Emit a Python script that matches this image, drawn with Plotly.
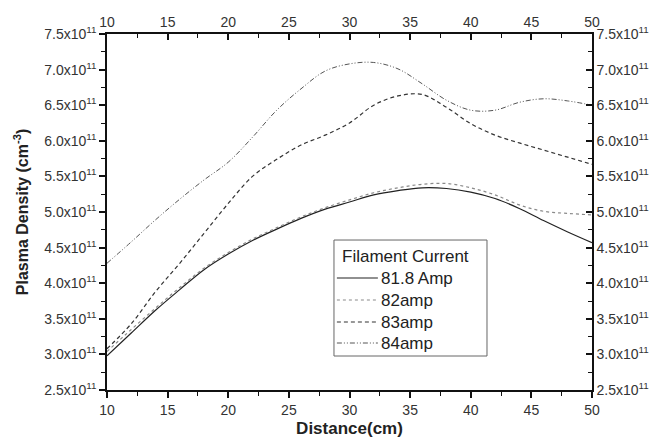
import plotly.graph_objects as go

# Distance along the chamber (cm)
distance = [10, 12, 14, 16, 18, 20, 22, 24, 26, 28, 30,
            32, 34, 36, 38, 40, 42, 44, 46, 48, 50]

# Plasma density in units of 1e11 cm^-3 for each filament current
den_818 = [2.98, 3.30, 3.62, 3.91, 4.19, 4.41, 4.60, 4.76, 4.91, 5.04, 5.14,
           5.24, 5.30, 5.34, 5.33, 5.28, 5.19, 5.05, 4.88, 4.72, 4.57]
den_82 = [3.04, 3.35, 3.65, 3.94, 4.21, 4.43, 4.62, 4.78, 4.93, 5.06, 5.17,
          5.27, 5.34, 5.39, 5.40, 5.34, 5.24, 5.10, 5.01, 4.98, 4.96]
den_83 = [3.08, 3.43, 3.88, 4.28, 4.70, 5.12, 5.50, 5.74, 5.94, 6.08, 6.25,
          6.50, 6.63, 6.65, 6.47, 6.24, 6.08, 5.97, 5.87, 5.77, 5.67]
den_84 = [4.28, 4.58, 4.89, 5.18, 5.45, 5.70, 6.05, 6.43, 6.73, 6.98, 7.08,
          7.10, 7.01, 6.80, 6.57, 6.43, 6.43, 6.54, 6.59, 6.56, 6.50]

series_names = ["81.8 Amp", "82amp", "83amp", "84amp"]
legend_title = "Filament Current"

x_ticks = [10, 15, 20, 25, 30, 35, 40, 45, 50]
y_ticks = [2.5, 3.0, 3.5, 4.0, 4.5, 5.0, 5.5, 6.0, 6.5, 7.0, 7.5]
y_ticktext = [f"{v:.1f}x10<sup>11</sup>" for v in y_ticks]

SCALE = 1e11

styles = [
    dict(color="#222222", width=1.2, dash="solid"),
    dict(color="#8a8a8a", width=1.2, dash="dot"),
    dict(color="#333333", width=1.2, dash="4px,3px"),
    dict(color="#555555", width=1.0, dash="5px,2px,1px,2px,1px,2px"),
]

fig = go.Figure()
for name, vals, st in zip(series_names, [den_818, den_82, den_83, den_84], styles):
    fig.add_trace(go.Scatter(
        x=distance, y=[v * SCALE for v in vals], name=name, mode="lines",
        line=dict(shape="spline", smoothing=1.0, **st), hoverinfo="x+y+name",
        showlegend=False,
    ))

font_main = "Liberation Sans, Arial, sans-serif"
tick_font = dict(family=font_main, size=14, color="#333333")

common_x = dict(range=[10, 50], tickvals=x_ticks, showgrid=False, zeroline=False,
                showline=True, linecolor="#111111", linewidth=1.5,
                tickcolor="#111111", tickwidth=1.5, ticklen=6, tickfont=tick_font)
common_y = dict(range=[2.5 * SCALE, 7.5 * SCALE], tickvals=[v * SCALE for v in y_ticks],
                ticktext=y_ticktext, showgrid=False, zeroline=False,
                showline=True, linecolor="#111111", linewidth=1.5,
                tickcolor="#111111", tickwidth=1.5, ticklen=6, tickfont=tick_font)

fig.update_layout(
    width=660, height=447,
    margin=dict(l=107, r=68, t=34, b=57),
    paper_bgcolor="white", plot_bgcolor="white",
    font=dict(family=font_main, color="#222222"),
    showlegend=False,
    xaxis=dict(**common_x, side="bottom", ticks="outside",
               minor=dict(dtick=2.5, tick0=10, ticks="outside", ticklen=4,
                          tickcolor="#111111", tickwidth=1.2),
               title=dict(text="<b>Distance(cm)</b>",
                          font=dict(family=font_main, size=17, color="#222222"),
                          standoff=6)),
    xaxis2=dict(**common_x, side="top", overlaying="x", matches="x", ticks="inside",
                minor=dict(dtick=2.5, tick0=10, ticks="inside", ticklen=4,
                           tickcolor="#111111", tickwidth=1.2)),
    yaxis=dict(**common_y, side="left", ticks="outside",
               minor=dict(dtick=0.25 * SCALE, tick0=2.5 * SCALE, ticks="outside", ticklen=4,
                          tickcolor="#111111", tickwidth=1.2),
               title=dict(text="<b>Plasma Density (cm<sup>-3</sup>)</b>",
                          font=dict(family=font_main, size=16, color="#222222"),
                          standoff=12)),
    yaxis2=dict(**common_y, side="right", overlaying="y", matches="y", ticks="inside",
                minor=dict(dtick=0.25 * SCALE, tick0=2.5 * SCALE, ticks="inside", ticklen=4,
                           tickcolor="#111111", tickwidth=1.2)),
)

# Anchor trace so the top and right axes are drawn with their own labels
fig.add_trace(go.Scatter(x=distance, y=[v * SCALE for v in den_84], xaxis="x2", yaxis="y2",
                         mode="lines", line=dict(width=0), opacity=0,
                         showlegend=False, hoverinfo="skip"))

# Legend box drawn in plot-area (paper) coordinates
box_x0, box_x1 = 0.468, 0.7835
box_y0, box_y1 = 0.0955, 0.4213
fig.add_shape(type="rect", xref="paper", yref="paper",
              x0=box_x0, x1=box_x1, y0=box_y0, y1=box_y1,
              line=dict(color="#666666", width=1), fillcolor="white", layer="above")
fig.add_annotation(xref="paper", yref="paper", x=0.480, y=0.376,
                   xanchor="left", yanchor="middle", showarrow=False,
                   text=legend_title,
                   font=dict(family=font_main, size=17, color="#222222"))
row_y = [0.3146, 0.2528, 0.191, 0.132]
for name, st, yy in zip(series_names, styles, row_y):
    fig.add_shape(type="line", xref="paper", yref="paper",
                  x0=0.474, x1=0.5585, y0=yy, y1=yy,
                  line=dict(color=st["color"], width=st["width"], dash=st["dash"]),
                  layer="above")
    fig.add_annotation(xref="paper", yref="paper", x=0.5605, y=yy,
                       xanchor="left", yanchor="middle", showarrow=False,
                       text=name, font=dict(family=font_main, size=17, color="#222222"))

fig.write_html("out.html")
